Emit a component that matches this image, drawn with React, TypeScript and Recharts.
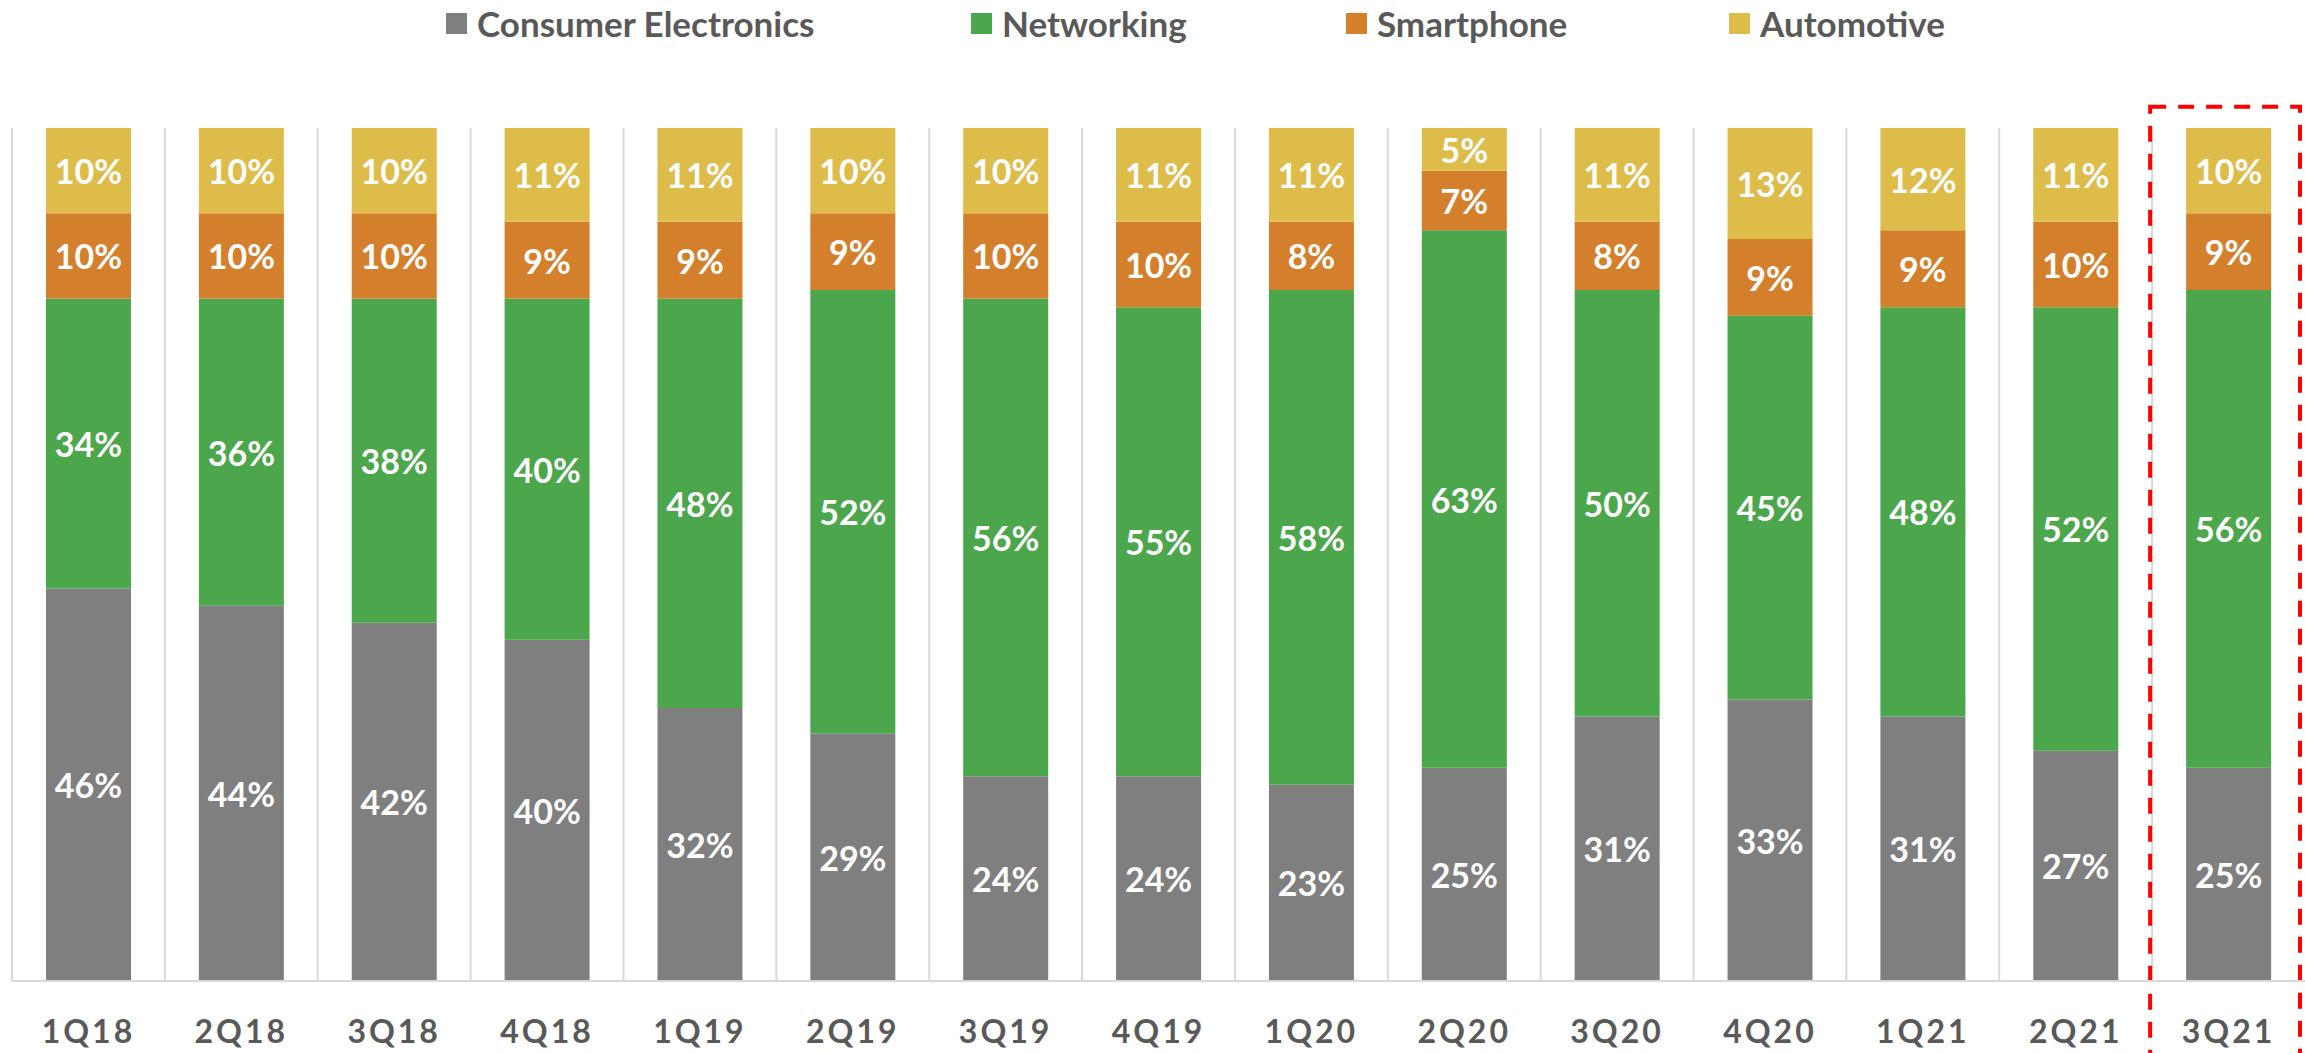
import React from "react";
import {
  BarChart,
  Bar,
  XAxis,
  YAxis,
  CartesianGrid,
  LabelList,
  ReferenceArea,
} from "recharts";

const quarters = ["1Q18", "2Q18", "3Q18", "4Q18", "1Q19", "2Q19", "3Q19", "4Q19", "1Q20", "2Q20", "3Q20", "4Q20", "1Q21", "2Q21", "3Q21"];
const consumer = [46, 44, 42, 40, 32, 29, 24, 24, 23, 25, 31, 33, 31, 27, 25];
const networking = [34, 36, 38, 40, 48, 52, 56, 55, 58, 63, 50, 45, 48, 52, 56];
const smartphone = [10, 10, 10, 9, 9, 9, 10, 10, 8, 7, 8, 9, 9, 10, 9];
const automotive = [10, 10, 10, 11, 11, 10, 10, 11, 11, 5, 11, 13, 12, 11, 10];

const highlighted = "3Q21";

const SERIES = [
  { key: "consumer", name: "Consumer Electronics", color: "#7F7F7F", legendX: 446 },
  { key: "networking", name: "Networking", color: "#4CA64C", legendX: 971 },
  { key: "smartphone", name: "Smartphone", color: "#D47F2B", legendX: 1346 },
  { key: "automotive", name: "Automotive", color: "#DEBC4A", legendX: 1729 },
];

const rows = quarters.map((q, i) => ({
  quarter: q,
  consumer: consumer[i],
  networking: networking[i],
  smartphone: smartphone[i],
  automotive: automotive[i],
}));

const FONT = "Lato, 'Open Sans', sans-serif";
const W = 2305;
const H = 1053;

const renderLabel = (props: any) => {
  const { x, y, width, height, value } = props;
  return (
    <text
      x={x + width / 2}
      y={y + height / 2}
      textAnchor="middle"
      dominantBaseline="central"
      fill="#fff"
      fontFamily={FONT}
      fontWeight={700}
      fontSize={34}
    >
      {`${value}%`}
    </text>
  );
};

const QuarterTick = (props: any) => {
  const { x, y, payload } = props;
  return (
    <text
      x={x}
      y={y + 49}
      textAnchor="middle"
      dominantBaseline="central"
      fill="#595959"
      fontFamily={FONT}
      fontWeight={700}
      fontSize={32}
      letterSpacing={3}
    >
      {payload.value}
    </text>
  );
};

const HighlightBox = (props: any) => {
  const { x, y, width, height } = props;
  return (
    <rect
      x={x - 2}
      y={y}
      width={width - 3}
      height={height}
      fill="none"
      stroke="#FF0000"
      strokeWidth={4}
      strokeDasharray="16 12"
    />
  );
};

export default function App() {
  return (
    <div style={{ position: "fixed", left: 0, top: 0, width: W, height: H, background: "#fff" }}>
      {/* legend */}
      {SERIES.map((s) => (
        <div
          key={s.key}
          style={{
            position: "absolute",
            left: s.legendX,
            top: 0,
            height: 46,
            display: "flex",
            alignItems: "center",
            fontFamily: FONT,
            fontWeight: 700,
            fontSize: 35,
            color: "#595959",
            whiteSpace: "nowrap",
          }}
        >
          <span style={{ display: "inline-block", width: 21, height: 21, background: s.color, marginRight: 10 }} />
          {s.name}
        </div>
      ))}

      <BarChart
        width={W}
        height={H}
        data={rows}
        margin={{ top: 128, right: 0, left: 12, bottom: 0 }}
        style={{ position: "absolute", left: 0, top: 0 }}
      >
        <CartesianGrid
          horizontal={false}
          stroke="#D9D9D9"
          strokeWidth={2}
          verticalCoordinatesGenerator={({ offset }: any) =>
            quarters.map((_, i) => offset.left + (i * offset.width) / quarters.length)
          }
        />
        <XAxis
          dataKey="quarter"
          height={72}
          axisLine={{ stroke: "#D9D9D9", strokeWidth: 2 }}
          tickLine={false}
          tickSize={0}
          tickMargin={0}
          interval={0}
          tick={<QuarterTick />}
        />
        <YAxis hide domain={[0, 100]} />
        {SERIES.map((s) => (
          <Bar
            key={s.key}
            dataKey={s.key}
            name={s.name}
            stackId="a"
            fill={s.color}
            barSize={85}
            isAnimationActive={false}
          >
            <LabelList dataKey={s.key} content={renderLabel} />
          </Bar>
        ))}
        <ReferenceArea
          x1={highlighted}
          x2={highlighted}
          y1={-10}
          y2={102.5}
          ifOverflow="visible"
          shape={<HighlightBox />}
        />
      </BarChart>
    </div>
  );
}
